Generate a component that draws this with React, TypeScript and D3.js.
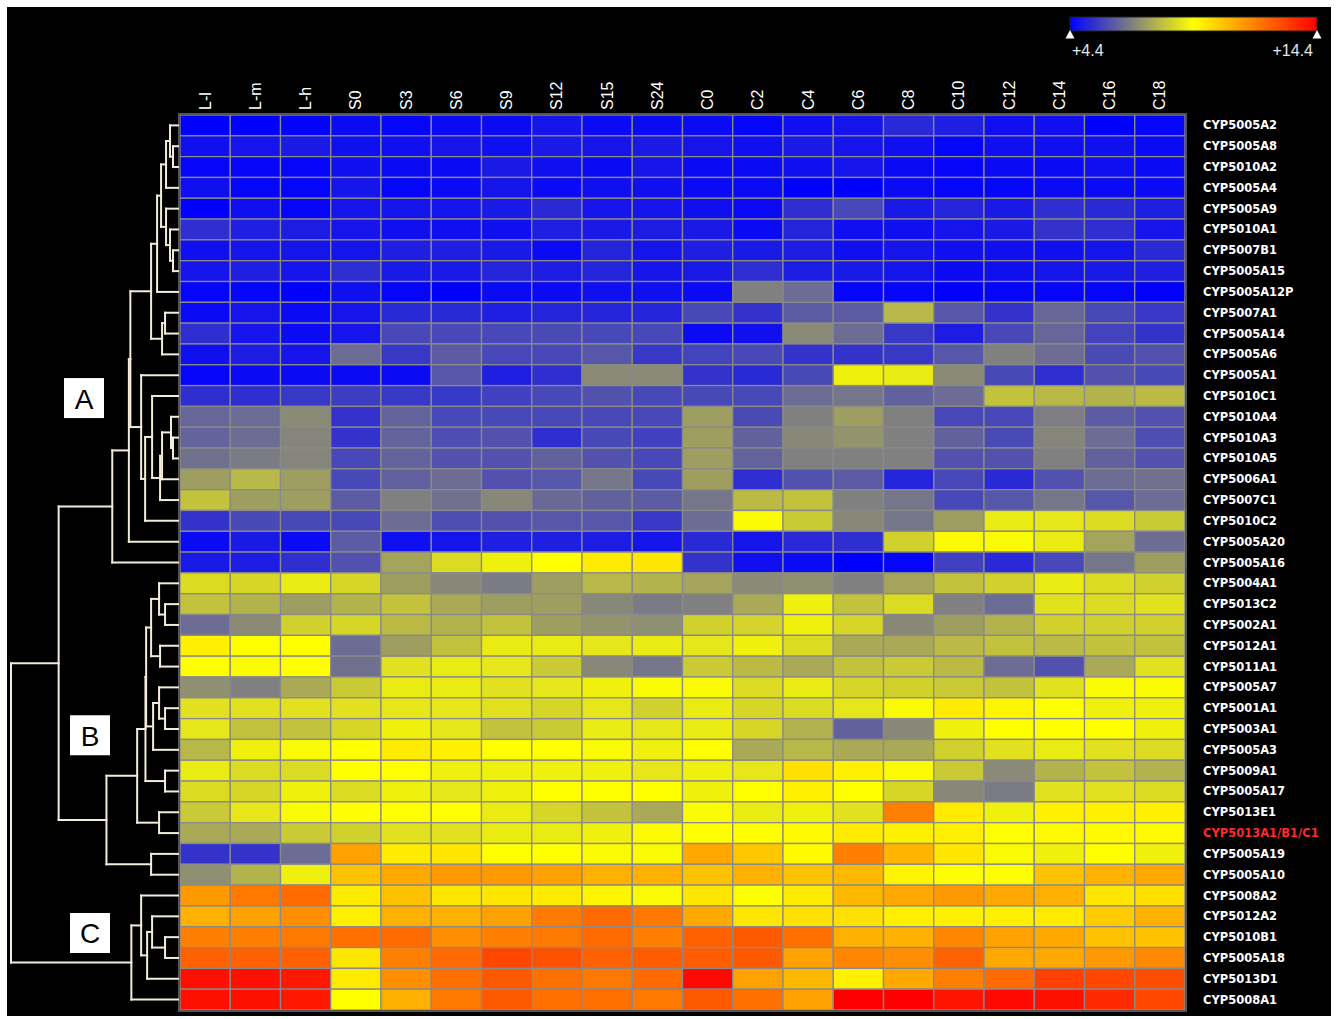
import React from "react";
import * as d3 from "d3";

const geneLabels = [
  "CYP5005A2","CYP5005A8","CYP5010A2","CYP5005A4","CYP5005A9","CYP5010A1","CYP5007B1","CYP5005A15","CYP5005A12P",
  "CYP5007A1","CYP5005A14","CYP5005A6","CYP5005A1","CYP5010C1","CYP5010A4","CYP5010A3","CYP5010A5","CYP5006A1",
  "CYP5007C1","CYP5010C2","CYP5005A20","CYP5005A16","CYP5004A1","CYP5013C2","CYP5002A1","CYP5012A1","CYP5011A1",
  "CYP5005A7","CYP5001A1","CYP5003A1","CYP5005A3","CYP5009A1","CYP5005A17","CYP5013E1","CYP5013A1/B1/C1",
  "CYP5005A19","CYP5005A10","CYP5008A2","CYP5012A2","CYP5010B1","CYP5005A18","CYP5013D1","CYP5008A1",
];
const highlightGene = "CYP5013A1/B1/C1";

const conditions = ["L-l","L-m","L-h","S0","S3","S6","S9","S12","S15","S24","C0","C2","C4","C6","C8","C10","C12","C14","C16","C18"];

// log2 expression, one row per gene (same order as geneLabels), columns as conditions
const expression: number[][] = [
  [4.4,4.4,4.45,4.6,4.5,4.6,4.6,4.8,4.6,4.6, 4.6,4.5,4.7,4.8,5.2,5.0,4.7,4.7,4.4,4.5],
  [4.7,4.8,4.9,4.7,4.7,4.8,4.7,4.9,4.8,4.9, 4.8,4.7,4.9,4.8,4.7,4.5,4.7,4.7,4.7,4.6],
  [4.5,4.5,4.5,4.7,4.6,4.6,4.9,4.7,4.6,4.8, 4.6,4.6,4.7,4.8,4.6,4.5,4.6,4.6,4.7,4.6],
  [4.7,4.5,4.5,4.8,4.5,4.6,4.8,4.6,4.7,4.7, 4.6,4.6,4.4,4.4,4.6,4.5,4.5,4.6,4.6,4.6],
  [4.4,4.7,4.5,4.8,4.8,4.8,4.9,5.2,4.8,4.8, 4.7,4.6,5.3,5.8,4.9,5.1,4.9,5.3,5.2,5.0],
  [5.3,5.0,4.95,4.8,4.7,4.7,4.7,5.0,4.9,4.95, 4.9,4.6,5.1,4.7,4.7,4.8,4.9,5.4,5.3,4.8],
  [4.7,4.8,4.8,4.8,5.0,5.0,4.9,4.6,5.1,4.8, 5.0,4.9,4.95,4.7,4.8,4.7,4.7,4.7,4.8,5.2],
  [4.8,5.0,4.8,5.3,4.9,4.9,5.1,4.95,5.1,4.8, 4.9,5.3,4.95,4.9,4.8,4.6,4.7,4.8,4.9,5.0],
  [4.5,4.5,4.4,4.7,4.5,4.4,4.6,4.6,4.7,4.7, 4.6,6.9,6.5,4.5,4.5,4.4,4.5,4.5,4.5,4.4],
  [4.6,4.8,4.6,4.8,5.2,5.2,5.0,5.1,5.1,5.1, 5.8,5.4,6.2,6.2,8.0,6.1,5.4,6.4,5.8,5.5],
  [5.3,4.8,4.6,4.8,5.8,5.8,5.8,5.85,5.8,5.8, 4.6,4.7,7.1,6.5,5.5,4.95,5.8,6.4,5.7,5.4],
  [4.7,4.95,4.8,6.5,5.5,6.2,5.8,5.8,6.1,5.5, 5.7,5.8,5.4,5.4,5.5,6.1,6.9,6.5,5.85,6.0],
  [4.5,4.6,4.6,4.6,4.6,6.1,5.0,5.3,7.1,7.1, 5.4,5.2,5.8,9.1,9.0,7.1,5.8,5.3,6.0,5.8],
  [5.3,5.3,5.5,5.6,5.5,5.5,5.65,5.8,6.0,5.8, 5.8,5.8,6.5,6.7,6.3,6.5,8.2,8.0,7.9,8.05],
  [6.4,6.5,7.1,5.4,6.35,5.8,5.8,5.8,5.8,5.8, 7.5,5.85,6.9,7.5,6.9,5.8,5.8,6.85,6.2,6.0],
  [6.35,6.5,7.0,5.4,6.35,5.9,6.0,5.3,5.8,5.65, 7.5,6.3,7.05,7.3,6.9,6.3,5.85,7.0,6.5,5.9],
  [6.6,6.8,7.0,5.8,6.35,6.0,6.0,6.3,6.0,5.8, 7.5,6.35,6.9,6.9,6.9,6.0,6.0,6.9,6.3,6.0],
  [7.5,8.0,7.5,5.8,6.3,6.5,6.0,6.1,6.7,5.8, 7.5,5.3,6.0,6.2,5.1,5.8,5.2,6.0,6.5,6.6],
  [8.2,7.5,7.5,6.2,6.9,6.6,7.05,6.45,6.3,6.2, 6.7,8.05,8.2,6.9,6.7,5.8,6.1,6.7,6.1,6.5],
  [5.4,5.8,5.8,5.8,6.5,5.9,6.0,6.1,6.1,5.5, 6.5,9.3,8.35,7.05,6.7,7.5,9.0,8.9,8.7,8.35],
  [4.6,4.9,4.6,6.2,4.7,4.8,5.0,5.0,4.95,4.8, 5.2,4.8,5.2,5.3,8.5,9.3,9.3,9.0,7.6,6.5],
  [4.9,4.95,5.3,6.0,7.6,8.7,9.1,9.4,9.8,9.9, 5.4,4.7,4.6,4.4,4.5,5.65,5.2,5.8,6.7,7.5],
  [8.7,8.6,9.0,8.6,7.5,7.05,6.8,7.5,8.0,7.9, 7.6,7.1,7.2,6.9,7.6,8.2,8.5,9.0,8.7,8.5],
  [8.2,7.9,7.5,7.9,8.2,7.7,7.5,7.5,7.05,6.8, 6.9,7.7,9.1,8.2,8.7,6.9,6.5,8.8,8.7,8.8],
  [6.5,7.1,8.5,8.6,8.05,7.9,8.2,7.5,7.3,7.2, 8.5,8.55,9.1,8.6,7.05,7.5,7.9,8.5,8.5,8.5],
  [9.7,9.4,9.4,6.5,7.5,8.2,9.0,9.0,8.9,9.0, 8.9,9.1,8.7,7.7,7.7,8.05,8.2,8.05,8.2,8.2],
  [9.4,9.3,9.4,6.6,8.8,9.0,8.9,8.35,7.05,6.7, 8.35,8.05,7.7,8.2,8.35,8.05,6.5,6.0,7.7,8.8],
  [7.2,6.9,7.7,8.35,9.0,9.0,8.8,8.9,9.1,9.3, 9.3,8.7,9.0,8.6,8.5,8.35,8.2,8.8,9.3,9.3],
  [8.8,8.8,8.8,8.8,8.9,8.9,8.8,8.6,8.9,8.5, 9.0,8.6,8.7,8.9,9.3,9.8,9.6,9.4,9.1,9.1],
  [8.9,8.2,8.2,8.6,9.1,8.9,8.2,8.35,9.0,8.9, 9.0,8.6,7.9,6.3,7.05,9.1,9.4,9.4,9.4,9.1],
  [8.0,9.1,9.3,9.4,9.8,9.7,9.4,9.4,9.3,9.1, 9.4,7.7,8.0,7.7,7.7,8.5,8.8,9.0,8.8,8.7],
  [9.0,8.7,8.7,9.4,9.4,9.1,9.1,9.1,9.1,8.9, 9.1,8.9,10.0,9.7,9.3,8.35,7.1,7.9,8.2,7.9],
  [8.7,8.6,9.1,8.7,9.1,8.9,9.1,9.4,9.4,9.4, 9.1,9.4,9.7,9.4,8.6,7.05,6.8,8.8,8.8,8.7],
  [8.35,8.9,9.3,9.4,9.4,9.4,9.0,8.6,8.2,7.7, 9.3,9.0,9.1,8.8,11.9,9.8,9.1,9.7,9.7,9.7],
  [7.7,7.7,8.35,8.5,8.8,8.8,9.0,9.0,9.1,9.3, 9.4,9.4,9.5,9.8,9.7,9.7,9.4,9.5,9.5,9.5],
  [5.4,5.4,6.5,11.25,9.8,9.9,9.4,9.4,9.3,9.3, 11.1,10.5,9.5,11.9,10.85,9.9,9.3,9.1,9.4,9.1],
  [7.2,7.9,9.1,10.6,11.1,11.4,11.4,11.25,10.95,10.95, 10.6,10.95,10.6,10.8,9.6,9.4,9.4,10.6,10.9,11.1],
  [11.4,12.05,12.3,9.8,10.6,9.9,9.9,9.8,9.6,9.3, 9.9,9.4,9.8,10.8,11.1,11.4,11.1,10.95,9.9,10.0],
  [10.95,11.25,11.6,9.7,10.95,10.95,11.25,12.0,12.35,12.05, 11.1,9.9,10.0,10.0,9.7,9.7,9.7,9.8,10.4,10.95],
  [11.9,11.9,12.05,12.2,12.3,11.6,11.9,12.05,12.3,11.9, 12.5,12.65,12.2,10.95,10.95,11.75,11.25,11.1,10.6,10.6],
  [12.5,12.5,12.5,9.9,11.9,12.3,13.0,12.8,12.5,12.6, 12.6,12.65,11.25,11.75,11.6,12.45,11.1,11.1,11.4,11.7],
  [14.1,14.1,13.95,9.8,11.6,12.2,12.65,12.2,12.05,12.3, 14.25,11.25,10.8,9.7,11.1,11.9,12.3,13.15,13.0,12.9],
  [14.1,14.1,13.95,9.4,10.95,12.05,12.65,12.2,12.2,12.05, 12.65,12.2,11.25,14.4,14.4,14.0,14.2,14.1,13.6,13.0],
];

const legendMin = 4.4;
const legendMax = 14.4;
const colorStops = [4.4, 6.9, 9.4, 14.4];
const colorRange = ["#0000ff", "#808080", "#ffff00", "#ff0000"];

// Hierarchical clustering: leaf = row index, node = [left, right, distance]
type DNode = number | [DNode, DNode, number];
const clusterTop: DNode = [[[[0, [1, 2, 0.024], 0.042], 3, 0.066], [4, [5, [6, 7, 0.024], 0.042], 0.066], 0.096], 8, 0.12];
const clusterA2: DNode = [[9, 10, 0.072], 11, 0.09];
const clusterA3: DNode = [12, [[13, [[[14, [15, 16, 0.024], 0.036], 17, 0.09], 18, 0.102], 0.15], 19, 0.192], 0.216];
const clusterA: DNode = [[[[clusterTop, clusterA2, 0.156], clusterA3, 0.281], 20, 0.29], 21, 0.39];
const clusterB1: DNode = [[[22, [23, 24, 0.072], 0.108], [25, 26, 0.102], 0.156], [[27, [28, 29, 0.072], 0.108], 30, 0.144], 0.186];
const clusterB: DNode = [[[clusterB1, [31, 32, 0.072], 0.19], [33, 34, 0.108], 0.24], [35, 36, 0.156], 0.425];
const clusterC: DNode = [[37, [[38, [39, 40, 0.072], 0.15], 41, 0.18], 0.216], 42, 0.275];
const dendrogram: DNode = [[clusterA, clusterB, 0.713], clusterC, 1.0];

const clusterTags = [
  { label: "A", row: 13.1, dx: 0 },
  { label: "B", row: 29.3, dx: 6 },
  { label: "C", row: 38.8, dx: 6 },
];

export default function App() {
  const W = 1337, H = 1019;
  const x = d3.scaleBand<string>().domain(conditions).range([180, 1185]);
  const y = d3.scaleBand<string>().domain(geneLabels).range([115, 1010]);
  const color = d3.scaleLinear<string>().domain(colorStops).range(colorRange).interpolate(d3.interpolateRgb).clamp(true);
  const xd = d3.scaleLinear().domain([0, 1]).range([177, 11]);
  const bw = y.bandwidth();
  const leafY = (i: number) => (y(geneLabels[i]) as number) + bw / 2;

  const segs: [number, number, number, number][] = [];
  const walk = (n: DNode): { x: number; y: number } => {
    if (typeof n === "number") return { x: 178, y: leafY(n) };
    const a = walk(n[0]);
    const b = walk(n[1]);
    const xx = xd(n[2]);
    segs.push([xx, a.y, xx, b.y], [xx, a.y, a.x, a.y], [xx, b.y, b.x, b.y]);
    return { x: xx, y: (a.y + b.y) / 2 };
  };
  walk(dendrogram);

  const lg = d3.scaleLinear().domain([legendMin, legendMax]).range([1070, 1317]);
  const gradStops = d3.range(0, 21).map((i) => legendMin + (i / 20) * (legendMax - legendMin));

  return (
    <svg width={W} height={H} style={{ position: "absolute", left: 0, top: 0, background: "#fff" }}>
      <defs>
        <linearGradient id="lg" x1="0" x2="1" y1="0" y2="0">
          {gradStops.map((v, i) => (
            <stop key={i} offset={`${(i / 20) * 100}%`} stopColor={color(v)} />
          ))}
        </linearGradient>
      </defs>
      <rect x={7} y={7} width={1324} height={1009} fill="#000" />

      {/* legend */}
      <rect x={lg(legendMin)} y={17} width={lg(legendMax) - lg(legendMin)} height={14} fill="url(#lg)" stroke="#222" strokeWidth={1} />
      {[legendMin, legendMax].map((v, i) => {
        const px = lg(v);
        return <path key={i} d={`M${px},30 L${px - 4.5},38.5 L${px + 4.5},38.5 Z`} fill="#fff" />;
      })}
      <text x={lg(legendMin) + 2} y={56} fill="#e6e6e6" fontFamily="Liberation Sans, Arial, sans-serif" fontSize={16}>
        +{legendMin.toFixed(1)}
      </text>
      <text x={lg(legendMax) - 4} y={56} fill="#e6e6e6" fontFamily="Liberation Sans, Arial, sans-serif" fontSize={16} textAnchor="end">
        +{legendMax.toFixed(1)}
      </text>

      {/* column labels */}
      {conditions.map((c) => {
        const cx = (x(c) as number) + x.bandwidth() / 2;
        return (
          <text key={c} transform={`translate(${cx},110) rotate(-90)`} fill="#fff" fontFamily="Liberation Sans, Arial, sans-serif" fontSize={16} dominantBaseline="central">
            {c}
          </text>
        );
      })}

      {/* heatmap */}
      <rect x={179} y={114} width={1007} height={897} fill="#555" />
      {expression.map((row, ri) =>
        row.map((v, ci) => (
          <rect
            key={`${ri}-${ci}`}
            x={x(conditions[ci])}
            y={y(geneLabels[ri])}
            width={x.bandwidth()}
            height={bw}
            fill={color(v)}
            stroke="#8a8a8a"
            strokeWidth={1.3}
          />
        ))
      )}
      <rect x={179} y={114} width={1007} height={897} fill="none" stroke="#555" strokeWidth={2} />

      {/* row labels */}
      {geneLabels.map((g) => (
        <text key={g} x={1203} y={(y(g) as number) + bw / 2} dominantBaseline="central" fill={g === highlightGene ? "#ff2a2a" : "#fff"} fontFamily="DejaVu Sans, sans-serif" fontWeight="bold" fontSize={11.5}>
          {g}
        </text>
      ))}

      {/* dendrogram */}
      <g stroke="#f2ecd9" strokeWidth={2} strokeLinecap="square">
        {segs.map((s, i) => (
          <line key={i} x1={s[0]} y1={s[1]} x2={s[2]} y2={s[3]} />
        ))}
      </g>

      {/* cluster tags */}
      {clusterTags.map((t) => {
        const cy = 115 + (t.row + 0.5) * bw;
        return (
          <g key={t.label}>
            <rect x={64 + t.dx} y={cy - 20} width={40} height={40} fill="#fff" />
            <text x={84 + t.dx} y={cy + 1} textAnchor="middle" dominantBaseline="central" fontFamily="Liberation Sans, Arial, sans-serif" fontSize={28} fill="#000">
              {t.label}
            </text>
          </g>
        );
      })}
    </svg>
  );
}
